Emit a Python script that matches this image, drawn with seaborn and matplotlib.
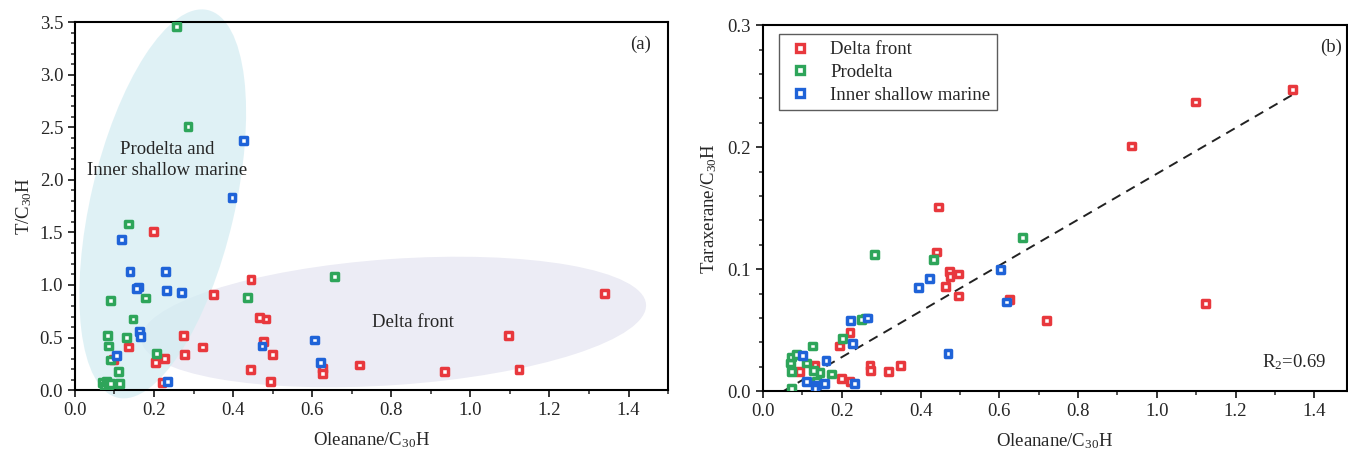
import numpy as np
import pandas as pd
import matplotlib
matplotlib.use("Agg")
import matplotlib.pyplot as plt
import matplotlib.transforms as mtransforms
from matplotlib.patches import Ellipse
from matplotlib.lines import Line2D
from matplotlib.ticker import MultipleLocator, FormatStrFormatter
import seaborn as sns

# ---------------- data ----------------
groups = ["Delta front", "Prodelta", "Inner shallow marine"]
colors = ["#e8383d", "#2ea55a", "#1f63d8"]

# panel (a): Oleanane/C30H vs T/C30H
a_delta_x = [0.199, 0.445, 0.350, 0.466, 0.483, 0.136, 0.275, 0.322, 0.476, 0.500, 0.277, 0.097,
             0.204, 0.227, 0.627, 0.627, 0.443, 0.220, 0.495, 0.720, 1.339, 1.097, 0.934, 1.123]
a_delta_y = [1.51, 1.05, 0.91, 0.69, 0.676, 0.41, 0.52, 0.41, 0.46, 0.34, 0.34, 0.29,
             0.26, 0.30, 0.206, 0.16, 0.197, 0.073, 0.08, 0.24, 0.92, 0.52, 0.175, 0.20]
a_pro_x = [0.256, 0.286, 0.136, 0.657, 0.090, 0.179, 0.437, 0.147, 0.082, 0.084, 0.130, 0.206,
           0.090, 0.111, 0.112, 0.070, 0.075, 0.080, 0.085, 0.090]
a_pro_y = [3.46, 2.51, 1.58, 1.08, 0.85, 0.876, 0.88, 0.676, 0.52, 0.42, 0.50, 0.35,
           0.286, 0.175, 0.064, 0.07, 0.04, 0.08, 0.05, 0.06]
a_inner_x = [0.426, 0.397, 0.118, 0.139, 0.228, 0.161, 0.155, 0.231, 0.269, 0.164, 0.165, 0.605,
             0.473, 0.105, 0.621, 0.235]
a_inner_y = [2.37, 1.83, 1.43, 1.13, 1.13, 0.98, 0.97, 0.95, 0.93, 0.555, 0.51, 0.476,
             0.42, 0.333, 0.26, 0.086]

# panel (b): Oleanane/C30H vs Taraxerane/C30H
b_delta_x = [1.344, 1.099, 0.936, 0.445, 1.124, 0.720, 0.441, 0.473, 0.496, 0.475, 0.464, 0.496,
             0.625, 0.221, 0.194, 0.272, 0.273, 0.318, 0.349, 0.092, 0.132, 0.200, 0.221]
b_delta_y = [0.247, 0.237, 0.201, 0.151, 0.072, 0.058, 0.114, 0.098, 0.096, 0.094, 0.086, 0.078,
             0.075, 0.048, 0.037, 0.021, 0.017, 0.016, 0.021, 0.016, 0.021, 0.010, 0.008]
b_pro_x = [0.659, 0.283, 0.434, 0.261, 0.250, 0.201, 0.126, 0.069, 0.073, 0.085, 0.073, 0.111,
           0.128, 0.145, 0.174, 0.136, 0.073]
b_pro_y = [0.126, 0.112, 0.108, 0.060, 0.059, 0.043, 0.037, 0.023, 0.028, 0.030, 0.016, 0.023,
           0.017, 0.015, 0.014, 0.008, 0.002]
b_inner_x = [0.604, 0.422, 0.394, 0.619, 0.470, 0.266, 0.223, 0.228, 0.160, 0.100, 0.111, 0.136,
             0.157, 0.132, 0.233]
b_inner_y = [0.100, 0.092, 0.085, 0.073, 0.031, 0.060, 0.058, 0.039, 0.025, 0.029, 0.008, 0.005,
             0.006, 0.002, 0.006]

fit_slope = 0.188
fit_intercept = -0.0098
fit_x_range = [0.052, 1.35]
r2_label = "R$_2$=0.69"

# ---------------- style ----------------
sns.set_style("ticks")
plt.rcParams["font.family"] = ["Liberation Serif", "DejaVu Serif"]
plt.rcParams["mathtext.fontset"] = "custom"
plt.rcParams["mathtext.rm"] = "Liberation Serif"
plt.rcParams["mathtext.default"] = "regular"
plt.rcParams["axes.linewidth"] = 1.5
plt.rcParams["xtick.major.width"] = 1.3
plt.rcParams["ytick.major.width"] = 1.3
plt.rcParams["xtick.minor.width"] = 1.1
plt.rcParams["ytick.minor.width"] = 1.1

FS = 13.5

fig = plt.figure(figsize=(13.48, 4.59), dpi=100)
ax1 = fig.add_axes([0.0556, 0.150, 0.440, 0.802])
ax2 = fig.add_axes([0.566, 0.148, 0.433, 0.797])


def make_df(xs, ys):
    rows = []
    for g, x, y in zip(groups, xs, ys):
        rows.append(pd.DataFrame({"x": x, "y": y, "group": g}))
    return pd.concat(rows, ignore_index=True)


def draw_points(ax, df):
    sns.scatterplot(data=df, x="x", y="y", hue="group", hue_order=groups,
                    palette=colors, marker="s", s=24, linewidth=2.5,
                    legend=False, ax=ax, zorder=3)
    coll = ax.collections[-1]
    fc = coll.get_facecolors()
    coll.set_edgecolors(fc)
    coll.set_facecolors("white")


def style_axes(ax):
    ax.tick_params(which="both", direction="out", top=False, right=False, labelsize=FS)
    ax.tick_params(which="major", length=5)
    ax.tick_params(which="minor", length=2.8)
    for s in ax.spines.values():
        s.set_visible(True)
        s.set_linewidth(1.5)
        s.set_color("black")


def add_ellipse(ax, cx, cy, w_in, h_in, angle, color, alpha):
    tr = fig.dpi_scale_trans + mtransforms.ScaledTranslation(cx, cy, ax.transData)
    e = Ellipse((0, 0), w_in, h_in, angle=angle, transform=tr, facecolor=color,
                edgecolor="none", alpha=alpha, zorder=0.5, clip_on=False)
    ax.add_patch(e)


# ---- panel (a) ----
df_a = make_df([a_delta_x, a_pro_x, a_inner_x], [a_delta_y, a_pro_y, a_inner_y])
ax1.set_xlim(0, 1.5)
ax1.set_ylim(0, 3.5)

add_ellipse(ax1, 0.806, 0.648, 5.06, 1.26, 4, "#ececf5", 1.0)
add_ellipse(ax1, 0.222, 1.771, 3.98, 1.44, 76.9, "#d2ecf2", 0.7)

draw_points(ax1, df_a)
ax1.xaxis.set_major_locator(MultipleLocator(0.2))
ax1.xaxis.set_minor_locator(MultipleLocator(0.1))
ax1.yaxis.set_major_locator(MultipleLocator(0.5))
ax1.yaxis.set_minor_locator(MultipleLocator(0.1))
ax1.xaxis.set_major_formatter(FormatStrFormatter("%.1f"))
ax1.yaxis.set_major_formatter(FormatStrFormatter("%.1f"))
style_axes(ax1)
ax1.set_xlabel("Oleanane/C$_{30}$H", fontsize=FS, labelpad=8)
ax1.set_ylabel("T/C$_{30}$H", fontsize=FS, labelpad=4)
ax1.text(0.953, 0.94, "(a)", transform=ax1.transAxes, fontsize=FS, ha="center", va="center")
ax1.text(0.234, 2.19, "Prodelta and\nInner shallow marine", fontsize=FS, ha="center",
         va="center", linespacing=1.35, zorder=4)
ax1.text(0.856, 0.64, "Delta front", fontsize=FS, ha="center", va="center", zorder=4)

# ---- panel (b) ----
df_b = make_df([b_delta_x, b_pro_x, b_inner_x], [b_delta_y, b_pro_y, b_inner_y])
ax2.set_xlim(0, 1.482)
ax2.set_ylim(0, 0.3)
fx = np.array(fit_x_range)
fit_df = pd.DataFrame({"x": fx, "y": fit_slope * fx + fit_intercept})
sns.lineplot(data=fit_df, x="x", y="y", ax=ax2, color="#222222", linewidth=1.4,
             dashes=False, zorder=2)
ax2.lines[-1].set_dashes((5, 3.5))
draw_points(ax2, df_b)
ax2.xaxis.set_major_locator(MultipleLocator(0.2))
ax2.xaxis.set_minor_locator(MultipleLocator(0.1))
ax2.yaxis.set_major_locator(MultipleLocator(0.1))
ax2.yaxis.set_minor_locator(MultipleLocator(0.02))
ax2.xaxis.set_major_formatter(FormatStrFormatter("%.1f"))
ax2.yaxis.set_major_formatter(FormatStrFormatter("%.1f"))
style_axes(ax2)
ax2.set_xlabel("Oleanane/C$_{30}$H", fontsize=FS, labelpad=8)
ax2.set_ylabel("Taraxerane/C$_{30}$H", fontsize=FS, labelpad=6)
ax2.text(0.974, 0.94, "(b)", transform=ax2.transAxes, fontsize=FS, ha="center", va="center")
ax2.text(0.91, 0.08, r2_label, transform=ax2.transAxes, fontsize=FS, ha="center", va="center")

handles = [Line2D([], [], marker="s", linestyle="none", markersize=5.5,
                  markerfacecolor="white", markeredgecolor=c, markeredgewidth=2.4)
           for c in colors]
leg = ax2.legend(handles, groups, loc="upper left", bbox_to_anchor=(0.027, 0.975),
                 borderaxespad=0, fontsize=FS, frameon=True, fancybox=False,
                 edgecolor="#333333", handlelength=1.6, handletextpad=0.8,
                 borderpad=0.35, labelspacing=0.3)
leg.get_frame().set_linewidth(1.0)

fig.savefig("out.png", dpi=100)
